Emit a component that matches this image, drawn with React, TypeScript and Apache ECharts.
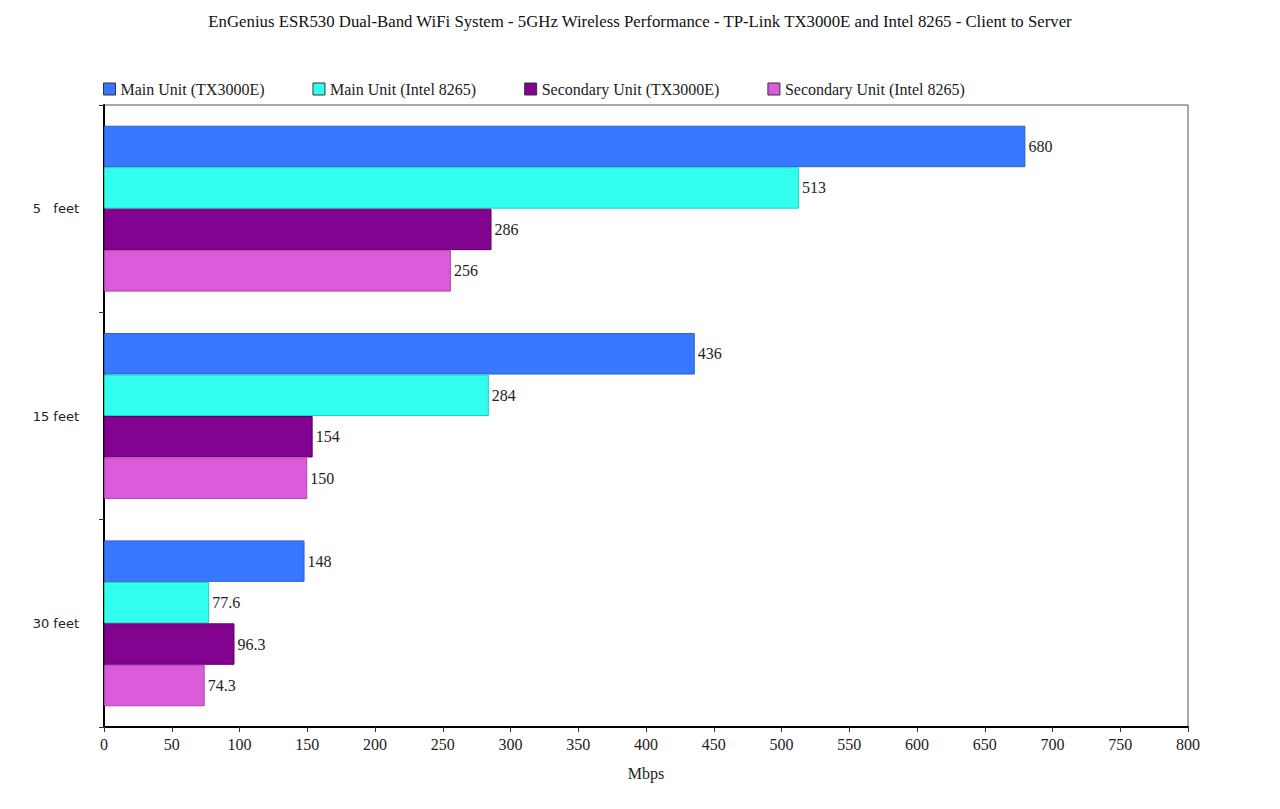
import React, { useEffect, useRef } from "react";
import * as echarts from "echarts";

const titleText =
  "EnGenius ESR530 Dual-Band WiFi System - 5GHz Wireless Performance - TP-Link TX3000E and Intel 8265 - Client to Server";
const categories = ["5   feet", "15 feet", "30 feet"];
const seriesNames = [
  "Main Unit (TX3000E)",
  "Main Unit (Intel 8265)",
  "Secondary Unit (TX3000E)",
  "Secondary Unit (Intel 8265)",
];
const mainTX3000E = [680, 436, 148];
const mainIntel8265 = [513, 284, 77.6];
const secondaryTX3000E = [286, 154, 96.3];
const secondaryIntel8265 = [256, 150, 74.3];
const colors = ["#3877FF", "#33FFEE", "#82038F", "#DA5CDA"];
const borderColors = ["#2a5fcc", "#22ccbb", "#5e0068", "#b040b0"];

const serif = "'Liberation Serif', 'Times New Roman', serif";

export default function App() {
  const ref = useRef<HTMLDivElement>(null);
  useEffect(() => {
    if (!ref.current) return;
    const chart = echarts.init(ref.current, undefined, { renderer: "svg" });
    const values = [mainTX3000E, mainIntel8265, secondaryTX3000E, secondaryIntel8265];
    chart.setOption({
      animation: false,
      backgroundColor: "#ffffff",
      title: {
        text: titleText,
        left: "center",
        top: 0,
        textStyle: { fontFamily: serif, fontSize: 16.8, fontWeight: "normal", color: "#111" },
      },
      legend: {
        top: 68,
        left: 90,
        itemWidth: 12,
        itemHeight: 12,
        itemGap: 48,
        icon: "rect",
        textStyle: { fontFamily: serif, fontSize: 16, color: "#222" },
        data: seriesNames.map((n, i) => ({
          name: n,
          itemStyle: { color: colors[i], borderColor: "#333", borderWidth: 1 },
        })),
      },
      grid: {
        left: 96,
        right: 84,
        top: 97,
        bottom: 74,
        show: true,
        borderColor: "#555",
        borderWidth: 1,
        containLabel: false,
      },
      xAxis: {
        type: "value",
        min: 0,
        max: 800,
        interval: 50,
        name: "Mbps",
        nameLocation: "middle",
        nameGap: 38,
        nameTextStyle: { fontFamily: serif, fontSize: 16, color: "#222" },
        axisLine: { show: true, lineStyle: { color: "#000", width: 2 } },
        axisTick: { show: true, length: 5, lineStyle: { color: "#333" } },
        axisLabel: { fontFamily: serif, fontSize: 16, color: "#222", margin: 9 },
        splitLine: { show: false },
      },
      yAxis: {
        type: "category",
        data: categories,
        inverse: true,
        axisLine: { show: true, lineStyle: { color: "#000", width: 2 } },
        axisTick: { show: true, length: 5, lineStyle: { color: "#333" } },
        axisLabel: {
          fontFamily: "'DejaVu Sans', sans-serif",
          fontSize: 13,
          color: "#222",
          margin: 25,
        },
        splitLine: { show: false },
      },
      series: values.map((v, i) => ({
        name: seriesNames[i],
        type: "bar",
        data: v,
        barGap: "0%",
        barCategoryGap: "20%",
        itemStyle: { color: colors[i], borderColor: borderColors[i], borderWidth: 1 },
        label: {
          show: true,
          position: "right",
          distance: 3,
          fontFamily: serif,
          fontSize: 16,
          color: "#222",
        },
      })),
    });
    return () => chart.dispose();
  }, []);
  return <div ref={ref} style={{ width: 1264, height: 793 }} />;
}
